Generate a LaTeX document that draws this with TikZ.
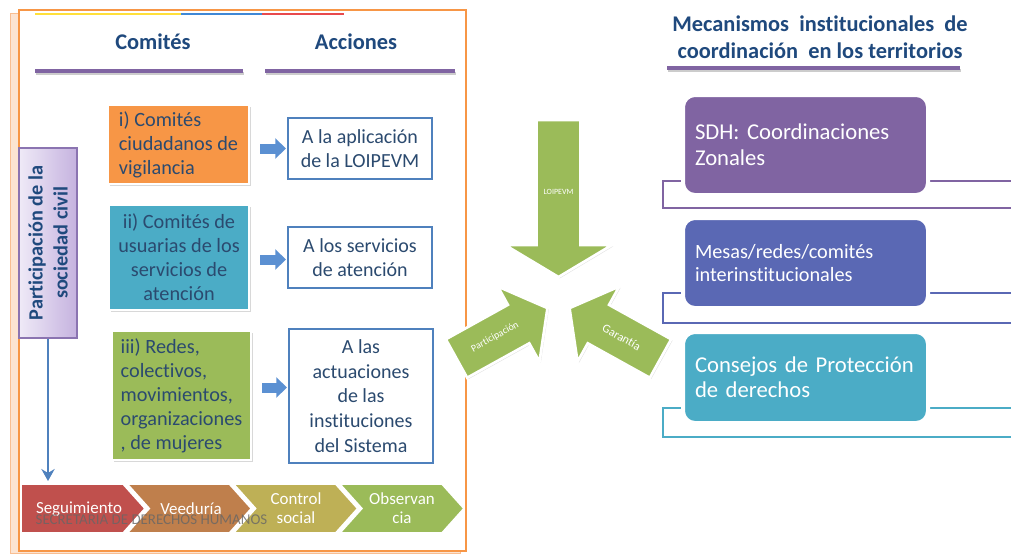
\documentclass[tikz,border=0pt]{standalone}
\usepackage{fontspec}
\setmainfont{Carlito}[Ligatures=NoCommon]
\usetikzlibrary{shadows,arrows.meta,calc}
\definecolor{frameor}{HTML}{F79646}
\definecolor{peach}{HTML}{FCE4D2}
\definecolor{peachline}{HTML}{F9BE91}
\definecolor{hdr}{HTML}{1F497D}
\definecolor{boxtext}{HTML}{2B4A6F}
\definecolor{upurple}{HTML}{8064A2}
\definecolor{corange}{HTML}{F79646}
\definecolor{cteal}{HTML}{4BACC6}
\definecolor{cgreen}{HTML}{9BBB59}
\definecolor{ablue}{HTML}{4F81BD}
\definecolor{arrblue}{HTML}{5B90D2}
\definecolor{chevA}{HTML}{C0504D}
\definecolor{chevB}{HTML}{BF7F4C}
\definecolor{chevC}{HTML}{BEB056}
\definecolor{chevD}{HTML}{9BBB59}
\definecolor{mesas}{HTML}{5A68B4}
\definecolor{lavL}{HTML}{EFEAF7}
\definecolor{lavR}{HTML}{C5B2DF}
\definecolor{lavline}{HTML}{8B74B1}
\definecolor{triY}{HTML}{FFE03A}
\definecolor{triB}{HTML}{3F88D6}
\definecolor{triR}{HTML}{E8494D}
\begin{document}
\frenchspacing
\begin{tikzpicture}[x=0.75pt,y=-0.75pt,
  hdrfont/.style={font=\fontsize{16.8}{20.25}\selectfont\bfseries, text=hdr},
  cbox/.style={draw=white, line width=2.2pt, text=boxtext, font=\fontsize{15.2}{18}\selectfont, inner sep=0pt, drop shadow={opacity=0.3, shadow xshift=1.2pt, shadow yshift=-1.2pt}},
  abox/.style={draw=ablue, line width=1.6pt, fill=white, text=boxtext, font=\fontsize{15}{18.5}\selectfont, align=center, inner sep=0pt, minimum width=108pt, drop shadow={opacity=0.2, shadow xshift=1pt, shadow yshift=-1pt}},
  blockarr/.style={arrblue, line width=7.5pt, -{Triangle[width=15pt,length=8pt]}, shorten <=7.5pt, shorten >=0.75pt},
  rbox/.style={draw=white, line width=3pt, rounded corners=9pt, text=white, align=left, inner xsep=9pt, inner ysep=0pt, text width=165.75pt},
  bracket/.style={line width=1.6pt},
  greenarr/.style={fill=cgreen, draw=white, line width=2pt, drop shadow={opacity=0.25, shadow xshift=1pt, shadow yshift=-1pt}},
  chev/.style={draw=white, line width=1.2pt},
  chevtext/.style={text=white, font=\fontsize{12.7}{14.25}\selectfont, align=center},
  uline/.style={upurple, line width=2.3pt},
  ushadow/.style={black, opacity=0.2, line width=2.6pt}
]
\useasboundingbox (0,0) rectangle (1011,554);
% frame
\draw[peachline, fill=peach, line width=0.6pt] (10,13) rectangle (460,553);
\draw[frameor, fill=white, line width=2pt] (19,10) rectangle (466,551);
\draw[triY, line width=1.5pt] (35,14) -- (181,14);
\draw[triB, line width=1.5pt] (181,14) -- (262,14);
\draw[triR, line width=1.5pt] (262,14) -- (344,14);
% headers
\node[hdrfont] (hcom) at (153,42) {Comités};
\node[hdrfont] (hacc) at (356,42) {Acciones};
\draw[ushadow] (36,73.5) -- (244,73.5);
\draw[uline] (35,71) -- (243,71);
\draw[ushadow] (266,73.5) -- (456,73.5);
\draw[uline] (265,71) -- (455,71);
% comites
\node[cbox, fill=corange, minimum width=105.75pt, minimum height=59.25pt, align=left] (c1) at (178.5,144.5) {i) Comités\\ciudadanos de\\vigilancia};
\node[cbox, fill=cteal, minimum width=105pt, minimum height=78.75pt, align=center] (c2) at (179,257.5) {ii) Comités de\\usuarias de los\\servicios de\\atención};
\node[cbox, fill=cgreen, minimum width=104.25pt, minimum height=96.75pt, align=left] (c3) at (181.5,395.5) {iii) Redes,\\colectivos,\\movimientos,\\organizaciones\\, de mujeres};
% acciones
\node[abox, minimum height=45.75pt] (a1) at (360,148.5) {A la aplicación\\de la LOIPEVM};
\node[abox, minimum height=45.75pt] (a2) at (360,257.5) {A los servicios\\de atención};
\node[abox, minimum height=100.5pt] (a3) at (361,396) {A las\\actuaciones\\de las\\instituciones\\del Sistema};
\draw[blockarr] (c1.east |- a1.west) -- (a1.west);
\draw[blockarr] ([yshift=-1.5pt]c2.east) -- ([yshift=-1.5pt]c2.east -| a2.west);
\draw[blockarr] ([yshift=6pt]c3.east) -- ([yshift=6pt]c3.east -| a3.west);
% participacion box
\node[draw=lavline, line width=0.8pt, left color=lavL, right color=lavR, minimum width=43.5pt, minimum height=142.5pt, inner sep=0pt] (pv) at (48,243) {};
\node[rotate=90, align=center, font=\fontsize{15.2}{18.75}\selectfont\bfseries, text=hdr] (pvt) at (pv.center) {Participación de la\\sociedad civil};
\coordinate (pend) at (48,481);
\draw[ablue, line width=2pt, -{Stealth[length=9pt,width=10pt,inset=3pt]}] (pv.south) -- (pend);
% chevrons
\draw[chev, fill=chevA] (21,484) -- (123,484) -- (145,508.5) -- (123,533) -- (21,533) -- cycle;
\foreach \k/\col [evaluate=\k as \xo using 21+106.3*\k] in {1/chevB,2/chevC,3/chevD}{
  \draw[chev, fill=\col] (\xo,484) -- ++(102,0) -- ++(22,24.5) -- ++(-22,24.5) -- ++(-102,0) -- ++(22,-24.5) -- cycle;
}
\node[chevtext] (t1) at (79,509) {Seguimiento};
\node[chevtext] (t2) at (191,509) {Veeduría};
\node[chevtext] (t3) at (296,508.5) {Control\\social};
\node[chevtext] (t4) at (402,508.5) {Observan\\cia};
\node[text=black!60, opacity=0.8, font=\fontsize{11.2}{13}\selectfont] (wm) at (151.5,520) {SECRETARIA DE DERECHOS HUMANOS};
% green arrows
\draw[greenarr] (536.5,120) -- (580.5,120) -- (580.5,245) -- (612,245) -- (558.5,277) -- (505,245) -- (536.5,245) -- cycle;
\begin{scope}[shift={(456.5,358.5)}, rotate=29]
\draw[greenarr] (0,-22) -- (71,-22) -- (71,-43) -- (104,0) -- (71,43) -- (71,22) -- (0,22) -- cycle;
\end{scope}
\begin{scope}[shift={(660.5,358.5)}, rotate=151]
\draw[greenarr] (0,-22) -- (71,-22) -- (71,-43) -- (104,0) -- (71,43) -- (71,22) -- (0,22) -- cycle;
\end{scope}
\node[text=white, font=\fontsize{6}{7}\selectfont] (lloi) at (558.5,192) {LOIPEVM};
\node[text=white, rotate=29, font=\fontsize{7.5}{9}\selectfont] (lpar) at (495,337) {Participación};
\node[text=white, rotate=-29, font=\fontsize{9}{10}\selectfont] (lgar) at (621.7,337.3) {Garantía};
% right title
\node[hdrfont, align=center] (rt) at (820,37.5) {Mecanismos\ \ institucionales\ \ de\\coordinación\ \ en los territorios};
\draw[ushadow] (668,70.5) -- (961,70.5);
\draw[uline] (667,68) -- (960,68);
% right boxes
\draw[upurple, bracket] (1013,181) -- (663,181) -- (663,208) -- (1013,208);
\node[rbox, fill=upurple, minimum height=75pt, font=\fontsize{17}{19.5}\selectfont] (sdh) at (805.5,145) {SDH: Coordinaciones\\Zonales};
\draw[mesas, bracket] (1013,293) -- (663,293) -- (663,323) -- (1013,323);
\node[rbox, fill=mesas, minimum height=67.5pt, font=\fontsize{15.2}{17.25}\selectfont] (mes) at (805.5,263) {Mesas/redes/comités\\interinstitucionales};
\draw[cteal, bracket] (1013,408) -- (663,408) -- (663,437) -- (1013,437);
\node[rbox, fill=cteal, minimum height=68.25pt, font=\fontsize{17}{18.75}\selectfont] (con) at (805.5,377.5) {Consejos de Protección\\de derechos};
\end{tikzpicture}
\end{document}
